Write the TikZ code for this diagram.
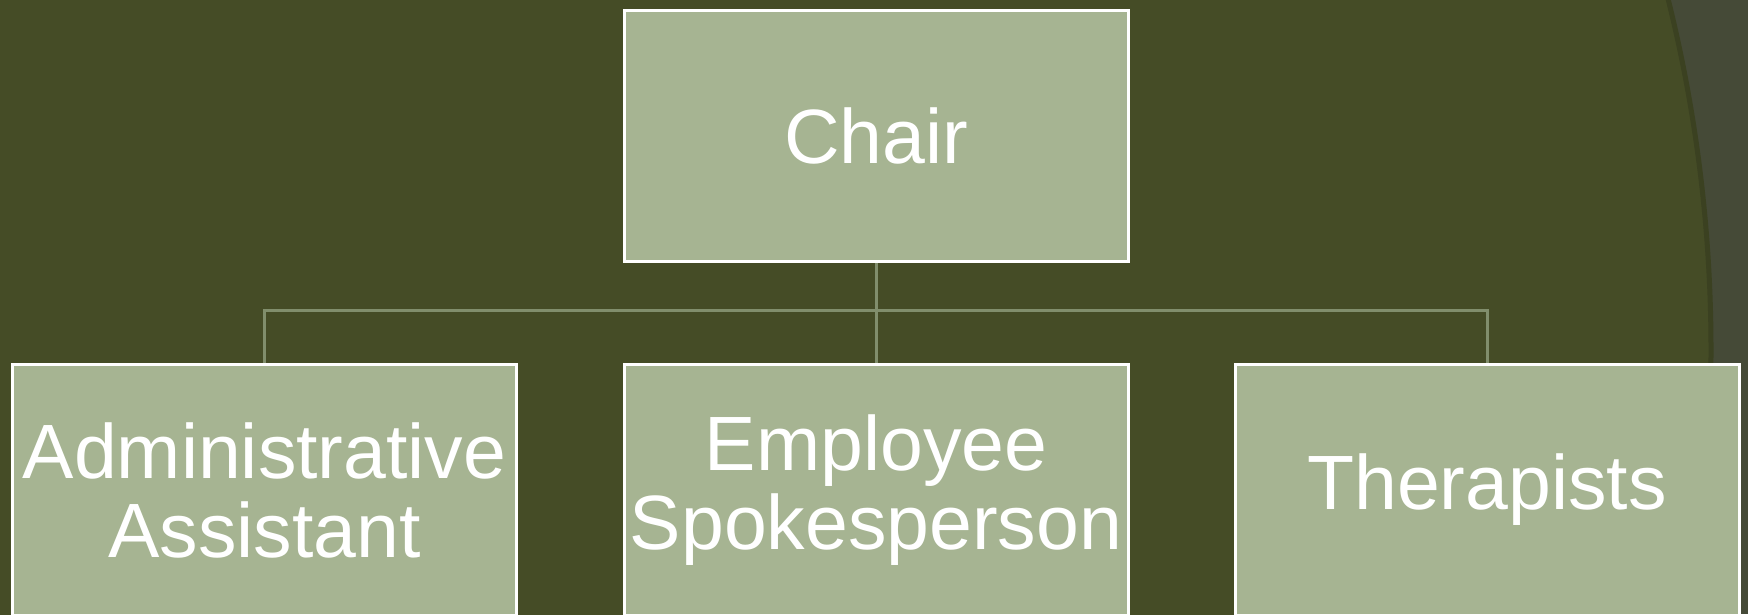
\documentclass[tikz,border=0pt]{standalone}
\usepackage{fontspec}
\setmainfont{Liberation Sans}
\definecolor{bgolive}{HTML}{454C26}
\definecolor{bggray}{HTML}{454A37}
\definecolor{boxfill}{HTML}{A6B492}
\definecolor{linkcol}{HTML}{818E6C}
\definecolor{shadecol}{HTML}{3B4121}
\tikzset{
  orgbox/.style={rectangle, draw=white, line width=3pt, fill=boxfill,
    minimum width=504pt, minimum height=251pt, inner sep=0pt,
    text=white, align=center, font=\fontsize{77}{79}\selectfont},
  link/.style={draw=linkcol, line width=3pt}
}
\begin{document}
\begin{tikzpicture}[x=1pt,y=-1pt]
\useasboundingbox (0,0) rectangle (1748,614);
\clip (0,0) rectangle (1748,614);
\fill[bggray] (0,0) rectangle (1748,614);
\filldraw[fill=bgolive, draw=shadecol, line width=5pt] (266,350) circle[radius=1445];
\node[orgbox] (chair) at (876,136) {Chair};
\node[orgbox] (adm) at (264.5,490) {Administrative\\Assistant};
\node[orgbox] (emp) at (876,490) {Employee\\Spokesperson};
\node[orgbox] (ther) at (1487,490) {Therapists};
\coordinate (br) at (876,310);
\draw[link] (chair.south) -- (br) -| (adm.north);
\draw[link] (br) -- (emp.north);
\draw[link] (br) -| (ther.north);
\end{tikzpicture}
\end{document}
